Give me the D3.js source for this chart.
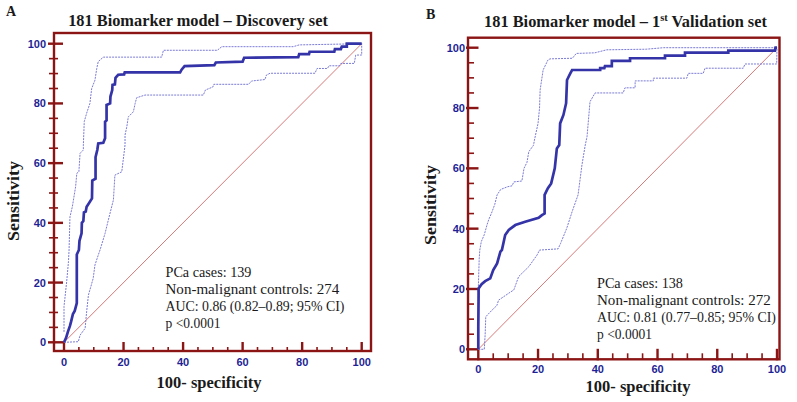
<!DOCTYPE html>
<html><head><meta charset="utf-8">
<script src="https://cdn.jsdelivr.net/npm/d3@7"></script>
<style>
body{margin:0;background:#fff;}
svg{display:block;}
</style></head>
<body>
<svg id="chart" width="797" height="402"></svg>
<script>
// ---------- DATA ----------
const axisTicks = [0, 20, 40, 60, 80, 100];
const minorTicks = d3.range(0, 101, 5);

const discoveryROC = [[0,0],[0.7,1.5],[1.3,3.5],[2.0,5.5],[2.4,7],[3.0,9.5],[3.6,10.5],[4.3,13.1],[4.3,29.4],[5.0,30.9],[5.2,34],[5.9,36.5],[6.0,40],[6.5,40.6],[6.7,43.5],[7.3,43.8],[7.6,45.4],[8.0,46],[9.4,48.2],[9.5,54.2],[10.6,54.8],[10.6,62],[11.2,64.5],[11.5,66.6],[13.2,66.8],[13.8,68.3],[13.8,73.9],[14.3,74.3],[14.3,79.5],[15.5,80],[15.6,82.3],[16.2,84.5],[16.3,86.2],[17.1,86.4],[17.3,88.6],[18.2,89.6],[20.2,89.7],[20.4,90.4],[39,90.4],[39.5,91.3],[40.5,92.5],[50.5,92.8],[51,93.7],[60,94],[60.5,95.3],[78.7,95.5],[79,96.5],[82.3,96.5],[82.5,97.3],[90.8,97.3],[91,98.2],[93,98.2],[93.3,99],[95,99],[95,100],[100,100]];
const discoveryUpper = [[0,3.5],[0,12],[0.3,14.7],[0.9,20.3],[1.5,27],[1.7,30.9],[2.0,42],[2.8,45.4],[3.9,52.1],[4.3,56.6],[5.0,57.1],[5.4,63.3],[6.5,64.4],[6.5,66],[6.8,73.9],[7.6,76.7],[8.7,80],[9.3,85],[10.4,87.8],[11,91.7],[11.5,94],[13.2,95.5],[32.8,95.5],[33.4,97.8],[51.5,97.8],[53,99],[77,99],[79,99.6],[100,100]];
const discoveryLower = [[0,0],[4.8,0.2],[5.4,2.4],[7.1,4.7],[7.6,10.2],[8.2,15.8],[9.8,21.4],[10.4,25.9],[11.5,29.2],[12.1,30.9],[13.8,36.5],[14.9,41],[16.6,47.7],[17.1,56],[19.4,57.1],[20.3,64.4],[20.5,66.1],[20.5,69.4],[21.1,72.2],[21.6,75.5],[23.3,77.2],[23.9,80],[24.4,81.9],[27.2,82.8],[46.8,82.8],[47.5,84.5],[50,85.5],[50.3,86.4],[62,86.4],[63,87.5],[67.5,88],[68,89.5],[69.2,90.1],[84.3,90.1],[85,91.7],[88.5,91.7],[89,92.6],[92.5,92.6],[93,93.4],[97.5,93.4],[98,96.2],[100,96.2],[100,100]];

const validationROC = [[0,0],[0,7.5],[0.1,18],[0.1,20.2],[1.1,21.6],[2.3,22.6],[4.0,23.5],[5.0,26.3],[6.3,28.5],[7.4,32.4],[7.9,32.9],[9.0,37.9],[10.2,39.6],[12.4,41.2],[15.7,42.3],[20.2,43.6],[21.3,44.5],[22.2,45],[22.2,51.2],[23.3,53.4],[24.4,55],[25.6,60],[26.3,66.6],[27.1,67.7],[27.4,74.9],[28.5,77.7],[29.4,81.6],[29.7,89.3],[30.8,91.5],[31.4,92.6],[40.8,92.6],[40.8,93.2],[42.2,93.2],[42.4,93.9],[44.7,93.9],[44.7,95.6],[50.8,95.6],[50.8,96.5],[62.5,96.5],[62.5,97.4],[69.2,97.4],[69.2,98.4],[83.7,98.4],[83.7,99],[99.3,99],[99.5,100],[100,100]];
const validationUpper = [[0,0],[0,20],[0.3,30],[0.5,32.9],[1.0,35.7],[2.0,38],[2.9,41.2],[3.5,43],[4.6,45.6],[5.5,48],[6.3,51.2],[7.5,53],[9.8,53.9],[11.3,54.2],[11.9,55.5],[14.6,55.8],[15.3,60],[16.3,62],[16.9,65.5],[18.5,67.7],[18.8,69.4],[20,74.9],[20.5,80],[20.7,86],[21.7,92.6],[23.3,95.9],[24,96.3],[31.5,96.5],[32.8,98.1],[39,98.3],[43,99.3],[56.2,99.5],[62,100],[100,100]];
const validationLower = [[0,0],[2,0],[2.3,5],[2.5,10.8],[4.6,13],[6.2,14.5],[6.8,16.3],[10.2,18.6],[11.9,19.7],[13.5,24.1],[16.9,27.4],[19.7,31.3],[20.5,32.9],[26.7,33.3],[27.5,35],[29.6,40.1],[31.4,45.6],[33.4,51.2],[34.7,61.1],[35.8,67.7],[36.4,70.5],[37.4,82.1],[39.1,85],[48.5,85],[49.1,86.7],[52.5,86.7],[52.5,89],[58.6,89],[58.6,89.9],[69.8,89.9],[70.3,91.5],[75.3,91.5],[75.9,93.2],[88.7,93.2],[89.3,94.6],[99.9,94.6],[100,100]];

const diagonal = [[0,0],[100,100]];

const panelLetters = ["A", "B"];
const discoveryNotes = ["PCa cases: 139", "Non-malignant controls: 274", "AUC: 0.86 (0.82\u20130.89; 95% CI)", "p <0.0001"];
const validationNotes = ["PCa cases: 138", "Non-malignant controls: 272", "AUC: 0.81 (0.77\u20130.85; 95% CI)", "p <0.0001"];
const xLabel = "100- specificity";
const yLabel = "Sensitivity";

// ---------- DRAW ----------
const svg = d3.select("#chart");
const SERIF = "'Palatino Linotype','Book Antiqua',Palatino,'Liberation Serif','Times New Roman',serif";
const SANS = "'Liberation Sans',Arial,Helvetica,sans-serif";
const FRAME = "#8b1414";
const LABEL = "#1f1f96";
const noteWidths = [86, 174, 179, 55];

// place a text so that its rendered width equals w (horizontal scale only)
function fit(textSel, x, y, w, anchor, rotate) {
  const node = textSel.node();
  const cw = node.getComputedTextLength();
  const s = w / cw;
  textSel.attr("x", 0).attr("y", 0).attr("text-anchor", anchor || "start")
    .attr("transform", `translate(${x},${y})` + (rotate ? ` rotate(${rotate})` : "") + ` scale(${s},1)`);
}

function drawPanel(cfg) {
  const g = svg.append("g");
  const x = d3.scaleLinear().domain([0, 100]).range(cfg.xr);
  const y = d3.scaleLinear().domain([0, 100]).range(cfg.yr);
  const f = cfg.frame;

  g.append("rect").attr("x", f.x0).attr("y", f.y0)
    .attr("width", f.x1 - f.x0).attr("height", f.y1 - f.y0)
    .attr("fill", "none").attr("stroke", FRAME).attr("stroke-width", 2.4);

  minorTicks.forEach(v => {
    const major = v % 20 === 0;
    g.append("line")
      .attr("x1", f.x0 - (major ? cfg.tOutMaj : cfg.tOutMin)).attr("x2", f.x0 + (major ? cfg.tInMaj : cfg.tInMin))
      .attr("y1", y(v)).attr("y2", y(v))
      .attr("stroke", FRAME).attr("stroke-width", major ? 2.4 : 1.6);
    g.append("line")
      .attr("y1", f.y1 + (major ? cfg.tOutMajX : cfg.tOutMinX)).attr("y2", f.y1 - (major ? cfg.tInMaj : cfg.tInMin))
      .attr("x1", x(v)).attr("x2", x(v))
      .attr("stroke", FRAME).attr("stroke-width", major ? 2.4 : 1.6);
  });

  g.selectAll(".yl").data(axisTicks).enter().append("text")
    .attr("x", cfg.yLabX).attr("y", d => y(d)).attr("dy", "0.36em")
    .attr("text-anchor", "end").attr("font-family", SANS).attr("font-weight", "bold")
    .attr("font-size", 11).attr("fill", LABEL).text(d => d);
  g.selectAll(".xl").data(axisTicks).enter().append("text")
    .attr("x", d => x(d)).attr("y", cfg.xLabY)
    .attr("text-anchor", "middle").attr("font-family", SANS).attr("font-weight", "bold")
    .attr("font-size", 11).attr("fill", LABEL).text(d => d);

  const line = d3.line().x(d => x(d[0])).y(d => y(d[1]));

  g.append("path").attr("d", line(diagonal)).attr("fill", "none")
    .attr("stroke", "#d46a6a").attr("stroke-width", 0.9);
  [cfg.upper, cfg.lower].forEach(s => {
    g.append("path").attr("d", line(s)).attr("fill", "none")
      .attr("stroke", "#7b7bd6").attr("stroke-width", 1).attr("stroke-dasharray", "2,1");
  });
  g.append("path").attr("d", line(cfg.roc)).attr("fill", "none")
    .attr("stroke", "#3434a8").attr("stroke-width", 2.7).attr("stroke-linejoin", "miter");

  const t = g.append("text")
    .attr("font-family", SERIF).attr("font-weight", "bold")
    .attr("font-size", 16.5).attr("fill", "#1a1a1a");
  cfg.title.forEach(p => {
    const ts = t.append("tspan").text(p.t);
    if (p.sup) ts.attr("font-size", 10.5).attr("dy", -6);
    if (p.after) ts.attr("dy", 6);
  });
  fit(t, cfg.titleX, cfg.titleY, cfg.titleW, "middle");

  g.append("text").attr("x", cfg.letterX).attr("y", cfg.letterY)
    .attr("font-family", SERIF).attr("font-weight", "bold").attr("font-size", 14)
    .attr("fill", "#1a1a1a").text(cfg.letter);

  const xt = g.append("text").attr("font-family", SERIF).attr("font-weight", "bold")
    .attr("font-size", 16).attr("fill", "#1a1a1a").text(xLabel);
  fit(xt, cfg.xTitleX, cfg.xTitleY, 105, "middle");
  const yt = g.append("text").attr("font-family", SERIF).attr("font-weight", "bold")
    .attr("font-size", 16).attr("fill", "#1a1a1a").text(yLabel);
  fit(yt, cfg.yTitleX, cfg.yTitleY, 80, "middle", -90);

  cfg.notes.forEach((d, i) => {
    const nt = g.append("text").attr("font-family", SERIF).attr("font-size", 14.5)
      .attr("fill", "#1a1a1a").text(d);
    fit(nt, cfg.noteX, cfg.noteY + i * 17, noteWidths[i], "start");
  });
}

drawPanel({
  frame: {x0: 54, y0: 33, x1: 371, y1: 351},
  xr: [64, 361.7], yr: [342.3, 43.7],
  tOutMaj: 6, tOutMin: 5, tInMaj: 9, tInMin: 4, tOutMajX: 1, tOutMinX: 1,
  yLabX: 46, xLabY: 366,
  roc: discoveryROC, upper: discoveryUpper, lower: discoveryLower,
  title: [{t: "181 Biomarker model \u2013 Discovery set"}],
  titleX: 198, titleY: 25.5, titleW: 260,
  letter: panelLetters[0], letterX: 6, letterY: 16,
  xTitleX: 209, xTitleY: 388,
  yTitleX: 19, yTitleY: 201,
  notes: discoveryNotes, noteX: 165.5, noteY: 277
});

drawPanel({
  frame: {x0: 468, y0: 37.7, x1: 779.5, y1: 359.3},
  xr: [478.3, 777], yr: [349.3, 47.7],
  tOutMaj: 2, tOutMin: 0, tInMaj: 10.5, tInMin: 6, tOutMajX: 1, tOutMinX: 0,
  yLabX: 465, xLabY: 372.5,
  roc: validationROC, upper: validationUpper, lower: validationLower,
  title: [{t: "181 Biomarker model \u2013 1"}, {t: "st", sup: true}, {t: " Validation set", after: true}],
  titleX: 625.5, titleY: 27, titleW: 283,
  letter: panelLetters[1], letterX: 426, letterY: 19,
  xTitleX: 638, xTitleY: 391.5,
  yTitleX: 436, yTitleY: 205,
  notes: validationNotes, noteX: 597, noteY: 287.5
});
</script>
</body></html>
